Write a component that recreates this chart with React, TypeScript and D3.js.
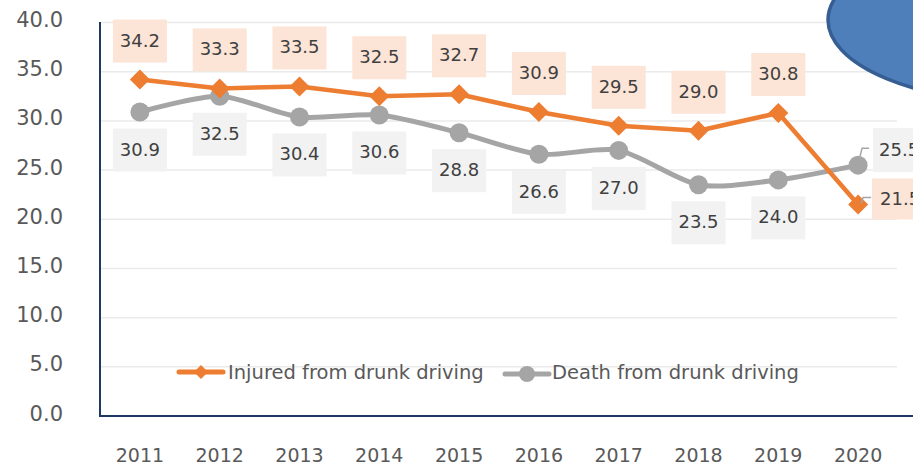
import React from "react";
import * as d3 from "d3";

const years = ["2011", "2012", "2013", "2014", "2015", "2016", "2017", "2018", "2019", "2020"];
const injured = [34.2, 33.3, 33.5, 32.5, 32.7, 30.9, 29.5, 29.0, 30.8, 21.5];
const death = [30.9, 32.5, 30.4, 30.6, 28.8, 26.6, 27.0, 23.5, 24.0, 25.5];
const yTicks = [0, 5, 10, 15, 20, 25, 30, 35, 40];
const seriesNames = ["Injured from drunk driving", "Death from drunk driving"];

const W = 913;
const H = 465;
const ORANGE = "#ED7D31";
const GRAY = "#A5A5A5";
const AXIS = "#203864";
const FONT = "'DejaVu Sans', Verdana, sans-serif";

export default function App() {
  const x = d3.scaleBand<string>().domain(years).range([100, 898]);
  const cx = (yr: string) => (x(yr) as number) + x.bandwidth() / 2;
  const y = d3.scaleLinear().domain([0, 40]).range([416, 22.5]);

  const orangeLine = d3
    .line<number>()
    .x((_, i) => cx(years[i]))
    .y((d) => y(d))(injured) as string;
  const grayLine = d3
    .line<number>()
    .x((_, i) => cx(years[i]))
    .y((d) => y(d))
    .curve(d3.curveCardinal.tension(0.2))(death) as string;

  const diamond = (px: number, py: number, s: number) =>
    `M${px},${py - s}L${px + s},${py}L${px},${py + s}L${px - s},${py}Z`;

  const boxW = 54;
  const boxH = 43;
  const last = years.length - 1;

  return (
    <svg
      width={W}
      height={H}
      viewBox={`0 0 ${W} ${H}`}
      style={{ position: "absolute", left: 0, top: 0, background: "#fff", overflow: "hidden" }}
      fontFamily={FONT}
    >
      {/* gridlines */}
      {yTicks.slice(1).map((t) => (
        <line key={t} x1={101} x2={897} y1={y(t)} y2={y(t)} stroke="#EAEAEA" strokeWidth={1.5} />
      ))}
      {/* y tick labels */}
      {yTicks.map((t) => (
        <text
          key={t}
          x={63}
          y={y(t) - 2.5}
          textAnchor="end"
          dominantBaseline="central"
          fontSize={21}
          fill="#595959"
        >
          {t.toFixed(1)}
        </text>
      ))}
      {/* x labels */}
      {years.map((yr) => (
        <text key={yr} x={cx(yr)} y={455} textAnchor="middle" dominantBaseline="central" fontSize={19} fill="#595959">
          {yr}
        </text>
      ))}
      {/* axes */}
      <line x1={100} x2={100} y1={22} y2={416} stroke={AXIS} strokeWidth={2} />
      <line x1={99} x2={913} y1={416} y2={416} stroke={AXIS} strokeWidth={2} />

      {/* lines */}
      <path d={grayLine} fill="none" stroke={GRAY} strokeWidth={5} strokeLinejoin="round" />
      <path d={orangeLine} fill="none" stroke={ORANGE} strokeWidth={4.5} strokeLinejoin="round" />
      {death.map((v, i) => (
        <circle key={"c" + i} cx={cx(years[i])} cy={y(v)} r={9.5} fill={GRAY} />
      ))}
      {injured.map((v, i) => (
        <path key={"d" + i} d={diamond(cx(years[i]), y(v), 10)} fill={ORANGE} />
      ))}

      {/* data labels */}
      {injured.map((v, i) => {
        if (i === last) return null;
        const px = cx(years[i]);
        const cyy = y(v) - 38.5;
        return (
          <g key={"li" + i}>
            <rect x={px - boxW / 2} y={cyy - boxH / 2} width={boxW} height={boxH} fill="#FCE4D6" />
            <text x={px} y={cyy - 1} textAnchor="middle" dominantBaseline="central" fontSize={18} fill="#404040">
              {v.toFixed(1)}
            </text>
          </g>
        );
      })}
      {death.map((v, i) => {
        if (i === last) return null;
        const px = cx(years[i]);
        const cyy = y(v) + 38;
        return (
          <g key={"ld" + i}>
            <rect x={px - boxW / 2} y={cyy - boxH / 2} width={boxW} height={boxH} fill="#F2F2F2" />
            <text x={px} y={cyy - 1} textAnchor="middle" dominantBaseline="central" fontSize={18} fill="#404040">
              {v.toFixed(1)}
            </text>
          </g>
        );
      })}
      {/* 2020 labels to the right with leader lines */}
      {(() => {
        const px = cx(years[last]);
        const gy = y(death[last]);
        const oy = y(injured[last]);
        const gcy = gy - 15;
        const ocy = oy - 5;
        return (
          <g>
            <rect x={873} y={gcy - 22} width={boxW} height={44} fill="#F2F2F2" />
            <text x={879} y={gcy - 1} dominantBaseline="central" fontSize={18} fill="#404040">
              {death[last].toFixed(1)}
            </text>
            <polyline
              points={`${px + 2},${gy - 9} ${px + 4},${gcy - 2} ${px + 11},${gcy - 2}`}
              fill="none"
              stroke="#A5A5A5"
              strokeWidth={1.5}
            />
            <rect x={872} y={ocy - 21} width={boxW} height={41} fill="#FCE4D6" />
            <text x={880} y={ocy - 1} dominantBaseline="central" fontSize={18} fill="#404040">
              {injured[last].toFixed(1)}
            </text>
            <polyline
              points={`${px + 3},${oy - 1} ${px + 5},${ocy - 2} ${px + 13},${ocy - 2}`}
              fill="none"
              stroke="#A5A5A5"
              strokeWidth={1.5}
            />
          </g>
        );
      })()}

      {/* legend */}
      <g>
        <line x1={179} x2={223} y1={372} y2={372} stroke={ORANGE} strokeWidth={5} strokeLinecap="round" />
        <path d={diamond(201, 372, 7)} fill={ORANGE} />
        <text x={228} y={372} dominantBaseline="central" fontSize={19.5} fill="#595959">
          {seriesNames[0]}
        </text>
        <line x1={505} x2={549} y1={374} y2={374} stroke={GRAY} strokeWidth={5} strokeLinecap="round" />
        <circle cx={527} cy={374} r={8} fill={GRAY} />
        <text x={552} y={372} dominantBaseline="central" fontSize={19.5} fill="#595959">
          {seriesNames[1]}
        </text>
      </g>

      {/* blue ellipse overlay */}
      <ellipse cx={1028} cy={20} rx={200} ry={83} fill="#4F7FBB" stroke="#365E93" strokeWidth={3.5} />
    </svg>
  );
}
